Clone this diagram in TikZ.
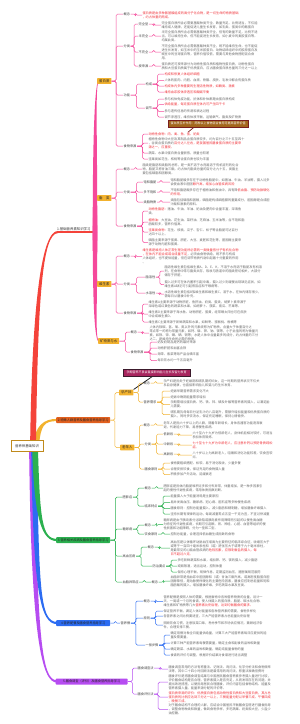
\documentclass[tikz,border=0pt]{standalone}
\usepackage{fontspec}
\setmainfont{Noto Sans CJK SC}
\usetikzlibrary{calc}
\pgfdeclarelayer{bg}
\pgfsetlayers{bg,main}
\definecolor{cRed}{HTML}{F4433A}
\definecolor{cPink}{HTML}{F5499B}
\definecolor{cGold}{HTML}{F2B22E}
\definecolor{cOrg}{HTML}{E2601E}
\definecolor{cGrn}{HTML}{2BB04F}
\definecolor{cBlu}{HTML}{2C6CF2}
\definecolor{cPur}{HTML}{B64CF1}
\definecolor{cTxt}{HTML}{6A6A6A}
\definecolor{cLab}{HTML}{444444}
\definecolor{cRdT}{HTML}{F0353C}
\definecolor{cBrn}{HTML}{A3661C}
\definecolor{cBrnD}{HTML}{7A1E1E}
\definecolor{cMag}{HTML}{A8255E}
\definecolor{cMagD}{HTML}{3C1A2C}
\definecolor{cRoot}{HTML}{C08A1C}
\newcommand\rt[1]{\textcolor{cRdT}{#1}}
\newcommand\brc[4]{\foreach \brcnode in {#4}{\draw[#1] (#2.east) -- ++(#3,0) |- (\brcnode.west);}}
\def\wa{3}\def\wb{1}
\newcommand\brup[9]{\fill[#1] ({#2-\wa},#3) .. controls ({#4-\wa},#5) and (#6,{#7-\wb}) .. (#8,{#9-\wb}) -- (#8,{#9+\wb}) .. controls (#6,{#7+\wb}) and ({#4+\wa},#5) .. ({#2+\wa},#3) -- cycle;}
\newcommand\brdn[9]{\fill[#1] ({#2-\wa},#3) .. controls ({#4-\wa},#5) and (#6,{#7+\wb}) .. (#8,{#9+\wb}) -- (#8,{#9-\wb}) .. controls (#6,{#7-\wb}) and ({#4+\wa},#5) .. ({#2+\wa},#3) -- cycle;}
\tikzset{
 fnt/.style={font=\fontsize{3.2}{4.1}\selectfont},
 tx/.style={fnt, text=cTxt, align=left, anchor=west, inner sep=0.3pt},
 lb/.style={fnt, text=cLab, anchor=west, inner sep=0.4pt},
 gb/.style={font=\fontsize{3.4}{4}\selectfont, fill=cGold, text=black!85, anchor=west, inner xsep=2pt, inner ysep=1.2pt, rounded corners=0.4pt},
 mbox/.style={fnt, anchor=west, text=black!85, inner xsep=1.5pt, inner ysep=0.8pt, minimum height=6pt, minimum width=54pt, rounded corners=0.8pt},
 rootbox/.style={font=\fontsize{3.4}{4}\selectfont, draw=cRoot, line width=0.7pt, fill=white, text=black!80, minimum width=32pt, minimum height=10.5pt, inner sep=0.5pt},
 callA/.style={font=\fontsize{3.0}{3.6}\selectfont, fill=cBrn, draw=cBrnD, line width=0.6pt, text=white, minimum width=80pt, minimum height=7pt, inner sep=0.6pt},
 callB/.style={font=\fontsize{3.0}{3.6}\selectfont, fill=cMag, draw=cMagD, line width=0.7pt, text=white, minimum width=67pt, minimum height=7pt, inner sep=0.6pt},
 lp/.style={cPink, line width=0.5pt, rounded corners=1.5pt},
 lg/.style={cGold, line width=0.5pt, rounded corners=1.5pt},
 lgr/.style={cGrn, line width=0.5pt, rounded corners=1.5pt},
 lbl/.style={cBlu, line width=0.5pt, rounded corners=1.5pt},
 lpu/.style={cPur, line width=0.5pt, rounded corners=1.5pt}
}
\begin{document}
\begin{tikzpicture}[x=1pt,y=-1pt]
\useasboundingbox (0,0) rectangle (300,724);
% root
\node[rootbox] (R) at (27,446) {营养师基础知识};
% ---------- branch 1 ----------
\node[lb, text=black!80, font=\fontsize{3.4}{4}\selectfont] (L1) at (56.5,229) {1.基础营养素知识学习};
\node[gb] (N1) at (97,81) {蛋白质};
\node[gb] (N2) at (97,198) {脂　类};
\node[gb] (N3) at (97,284) {维生素};
\node[gb] (N4) at (98,341) {矿物质与水};
% N1
\node[lb] (C11) at (123,14) {概念};
\node[tx, text=cRdT] (T11) at (142,15) {蛋白质是由多种氨基酸组成的高分子化合物，是一切生命的物质基础\\，约占体重的两成。};
\node[lb] (C12) at (123,46) {分类};
\node[lb] (K121) at (138,24) {完全型};
\node[lb] (K122) at (138,36) {半完全};
\node[lb] (K123) at (138,52) {不完全};
\node[lb] (K124) at (138,66) {按来源};
\node[tx] (T121) at (161,25) {完全蛋白质所含必需氨基酸种类齐全、数量充足、比例适当，不仅能\\维持成人健康，还能促进儿童生长发育，如乳类、蛋类中的酪蛋白};
\node[tx] (T122) at (161,36) {半完全蛋白质所含必需氨基酸种类齐全，但有的数量不足，比例不适\\当，可以维持生命，但不能促进生长发育，如小麦中的麦胶蛋白等。\\均属此类。};
\node[tx] (T123) at (161,52) {不完全蛋白质所含必需氨基酸种类不全，既不能维持生命，也不能促\\进生长发育，如玉米中的玉米胶蛋白、动物结缔组织中的胶原蛋白及\\豌豆中的豆球蛋白等，营养价值较低，需要与其他食物搭配混合食\\用。};
\node[tx] (T124) at (161,66) {蛋白质还可按来源分为动物性蛋白质和植物性蛋白质，动物性蛋白\\质和大豆蛋白质属于优质蛋白，应占膳食蛋白质总量的三分之一以上};
\node[lb] (C13) at (123,95) {功能};
\node[lb] (F131) at (145,84) {构成};
\node[lb] (F132) at (145,108) {调节};
\node[tx, text=cRdT] (F1a) at (164,74) {构成和修复人体组织细胞};
\node[tx] (F1b) at (164,80.5) {人体的肌肉、内脏、血液、骨骼、皮肤、毛发中都含有蛋白质};
\node[tx, text=cRdT] (F1c) at (164,86) {构成体内多种重要的生理活性物质，如酶类、激素};
\node[tx, text=cRdT] (F1d) at (164,92) {维持血浆胶体渗透压和酸碱平衡};
\node[tx] (F2a) at (164,99) {参与机体免疫功能，抗体和补体都是由蛋白质构成};
\node[tx, text=cRdT] (F2b) at (164,104.5) {供给能量，每克蛋白质在体内可产生四千卡};
\node[tx] (F2c) at (164,111.5) {参与遗传信息的传递和表达过程};
\node[tx] (F2d) at (164,117) {调节渗透压，维持体液平衡，运输氧气、脂类及矿物质};
\node[callA] (CB1) at (208,123.5) {蛋白质互补作用：两种以上食物混合食用可提高营养价值};
\node[lb] (C14) at (123,146) {食物来源};
\node[tx, text=cRdT] (S141) at (148,134) {动物性食物：肉、禽、鱼、蛋、奶类};
\node[tx] (S142) at (148,143) {植物性食物中大豆及其制品含蛋白质较多，约为百分之三十五至四十\\，谷类含蛋白质约\rt{百分之八左右，是我国居民膳食蛋白质的主要来}\\\rt{源之一，应重视。}};
\node[tx] (S143) at (148,153) {蔬菜、水果中蛋白质含量很低，质量也较差};
\node[tx] (S144) at (148,159) {坚果类如花生、核桃等含蛋白质也较为丰富};
% N2
\node[lb] (C21) at (123,169) {概念};
\node[tx] (T21) at (142,169) {脂类是脂肪和类脂的总称，是一类不溶于水而易溶于有机溶剂的化合\\物，脂肪又称甘油三酯，约占体内脂类总量的百分之九十五，类脂主\\要包括磷脂和固醇类。};
\node[lb] (C22) at (123,192) {分类};
\node[lb] (K221) at (143,182) {饱和脂肪};
\node[lb] (K222) at (143,192) {多不饱和};
\node[lb] (K223) at (143,202) {类脂物质};
\node[tx] (T221) at (170,182) {饱和脂肪酸多存在于动物性脂肪中，如猪油、牛油、羊油等，摄入过多\\会使血液中胆固\rt{醇升高，增加心血管疾病风险}};
\node[tx] (T222) at (170,192) {不饱和脂肪酸多存在于植物油和鱼油中，具有降\rt{低血脂、预防动脉硬化}\\\rt{的作用。}};
\node[tx] (T223) at (170,202) {类脂包括磷脂和固醇，磷脂是构成细胞膜的重要成分，胆固醇是合成胆\\汁酸和激素的原料。};
\node[lb] (C23) at (123,226) {食物来源};
\node[tx] (S231) at (148,211) {\rt{动物性脂肪：}猪油、牛油、羊油、奶油及肥肉中含量丰富，深海鱼\\类。};
\node[tx] (S232) at (148,222) {\rt{植物油：}大豆油、花生油、菜籽油、芝麻油、玉米油等，含不饱和脂\\肪酸较多，营养价值高。};
\node[tx] (S233) at (148,232) {\rt{坚果类食物：}花生、核桃、瓜子、杏仁、松子等含脂肪可达百分\\之四十以上。};
\node[tx] (S234) at (148,242.5) {磷脂主要来源于蛋黄、肝脏、大豆、麦胚和花生等，胆固醇主要来\\源于动物内脏和蛋黄。};
% N3
\node[lb] (C31) at (123,256) {概念};
\node[tx] (T31) at (142,256.5) {\rt{维生素是维持人体正常生理功能所必需的一类微量低分子有机化合物}\\\rt{，在体内不能合成或合成量不足}，必须由食物供给，既不参与构成\\人体组织，也不提供能量，但在调节物质代谢中起着十分重要的作用\\。};
\node[lb] (C32) at (123,284) {分类};
\node[lb] (K321) at (145,277) {脂溶性};
\node[lb] (K322) at (145,293) {水溶性};
\node[tx] (T3211) at (164,271) {脂溶性维生素包括维生素A、D、E、K，不溶于水而溶于脂肪及有机溶\\剂，在食物中常与脂类共存，吸收与肠道中的脂类密切相关，大部分\\储存于肝脏。};
\node[tx] (T3212) at (164,284.5) {摄入过多可在体内蓄积引起中毒，摄入过少则缓慢出现缺乏症状，如\\维生素A缺乏可引起夜盲症和干眼病等。};
\node[tx] (T322) at (164,294) {水溶性维生素包括B族维生素和维生素C，溶于水，在体内储存很少，\\需每日从膳食中补充。};
\node[lb] (C33) at (123,313) {食物来源};
\node[tx] (S331) at (148,304) {维生素A主要来源于动物肝脏、鱼肝油、奶类、蛋类，胡萝卜素来源于\\深绿色或红黄色的蔬菜和水果，如胡萝卜、菠菜、南瓜、芒果等。};
\node[tx] (S332) at (148,314) {维生素D主要来源于海水鱼、动物肝脏、蛋黄，经常晒太阳也可在皮肤\\中合成维生素D。};
\node[tx] (S333) at (148,322) {维生素C主要来源于新鲜蔬菜和水果，如鲜枣、猕猴桃、柑橘等};
% N4
\node[lb] (C41) at (130,332) {概念};
\node[tx] (T41) at (149,333) {人体内除碳、氢、氧、氮以外的元素统称为矿物质，含量大于体重百分之\\零点零一的称为常量元素，如钙、磷、钾、钠、镁等，小于此值的称为微量元\\素，如铁、锌、碘、硒、铜等；水是人体中含量最多的成分，约占体重的三分\\之二，是维持生命所必需的物质。};
\node[lb] (C42) at (130,352) {食物来源};
\node[tx] (S41) at (157,342) {奶及奶制品是钙的最好来源};
\node[tx] (S42) at (157,348) {动物肝脏和血富含铁};
\node[tx] (S43) at (157,354) {海带、紫菜等海产品含碘丰富};
\node[tx] (S44) at (157,360.5) {每日饮水约一千五百毫升};
% ---------- branch 2 ----------
\node[mbox, fill=cOrg] (M2) at (56,420) {2.特殊人群营养及膳食营养指导学习};
\node[gb] (A) at (119,392.5) {孕产妇};
\node[gb] (B) at (120,447.5) {老年人};
\node[callB] (CB2) at (156.5,372.5) {孕期营养不良会直接影响胎儿生长及智力发育};
\node[lb] (A1) at (143,383) {概念};
\node[tx] (TA1) at (163,383) {孕产妇是指处于妊娠期和哺乳期的妇女，这一时期的营养状况不仅关\\系自身健康，也直接影响胎儿和婴儿的生长发育。};
\node[lb] (A2) at (143,402) {营养需求};
\node[tx] (A2a) at (170,391) {妊娠早期营养需求变化不大};
\node[tx] (A2b) at (170,397) {妊娠中晚期能量需求增加};
\node[tx] (A2c) at (170,404.5) {孕期需增加蛋白质、钙、铁、锌、碘及叶酸等营养素的摄入，以满足胎\\儿需要。};
\node[tx] (A2d) at (170,414.5) {哺乳期乳母每日分泌乳汁约八百毫升，需额外增加能量和优质蛋白质的\\摄入，同时多饮汤水，保证充足睡眠，保持心情愉快。};
\node[lb] (B1) at (143,425) {概念};
\node[tx] (TB1) at (163,425) {老年人是指六十岁以上的人群，随着年龄增长，身体各器官功能逐渐衰\\退，代谢能力下降，易患慢性疾病。};
\node[lb] (B2) at (144,444) {分类};
\node[lb] (Q1) at (163,434) {低龄段};
\node[lb] (Q2) at (163,444) {中龄段};
\node[lb] (Q3) at (163,454) {高龄段};
\node[tx] (TQ1) at (192,435) {六十至六十九岁为低龄老人，身体机能相对较好，可适当\\参加体育锻炼。};
\node[tx, text=cRdT] (TQ2) at (192,445) {七十至七十九岁为中龄老人，应注意补钙以预防骨质疏松\\症。};
\node[tx] (TQ3) at (192,455) {八十岁以上为高龄老人，咀嚼和消化功能较差，饮食宜软\\烂。};
\node[lb] (B3) at (144,469) {膳食原则};
\node[tx] (B3a) at (170,463) {食物要粗细搭配、松软、易于消化吸收，少量多餐};
\node[tx] (B3b) at (170,469) {合理安排饮食，保证充足的食物摄入量};
\node[tx] (B3c) at (170,474.5) {积极参加户外活动，延缓衰老};
% ---------- branch 3 ----------
\node[mbox, fill=cGrn] (M3) at (56,540) {3.营养相关疾病及膳食营养指导学习};
\node[lb] (G1) at (122,497) {肥胖症};
\node[lb] (G2) at (122,529) {糖尿病};
\node[lb] (G3) at (122,556) {高血压病};
\node[lb] (G4) at (122,582) {血脂异常症};
\node[lb] (G11) at (144,488) {概念};
\node[tx] (TG11) at (163,488) {肥胖症是指体内脂肪堆积过多和分布异常，体重增加，是一种多因素引\\起的慢性代谢性疾病，常用体质指数判断。};
\node[lb] (G12) at (144,506) {临床特点};
\node[tx] (G12a) at (170,496) {能量摄入大于能量消耗是主要原因};
\node[tx] (G12b) at (170,502.5) {易并发高血压、糖尿病、冠心病、胆石症等多种慢性疾病};
\node[tx] (G12c) at (170,508.5) {膳食原则：控制总能量摄入，减少脂肪和精制糖，增加膳食纤维摄入};
\node[tx] (G12d) at (170,514) {坚持长期有规律的运动，每周减重零点五至一千克为宜，不宜过快减重};
\node[lb] (G21) at (144,525) {概念};
\node[tx] (TG21) at (163,524.5) {糖尿病是由于胰岛素分泌缺陷或胰岛素作用障碍而引起的以慢性高血糖\\为特征的代谢性疾病，长期可引起眼、肾、神经、心脏、血管等组织的慢\\性损害和功能障碍，分为一型和二型。};
\node[lb] (G22) at (144,534) {饮食原则};
\node[tx] (TG22) at (170,534) {控制总能量，合理选择低血糖生成指数的食物};
\node[lb] (G31) at (147,547) {概念};
\node[tx] (TG31) at (170,548) {高血压是以体循环动脉血压增高为主要特征的临床综合征，收缩压大于\\或等于一百四十毫米汞柱和（或）舒张压大于或等于九十毫米汞柱，\\是最常见的心脑血管疾病的\rt{危险因素，应限制食盐的摄入，每}\\\rt{日不超过六克。}};
\node[lb] (G32) at (152,566) {防治要点};
\node[tx] (G32a) at (177,560) {多吃新鲜蔬菜和水果，增加钾、钙、镁的摄入，减少脂肪};
\node[tx] (G32b) at (177,566) {戒烟限酒，适当运动，控制体重};
\node[tx] (G32c) at (177,572) {保持心理平衡，规律作息，定期监测血压，遵医嘱规范服药};
\node[lb] (G41) at (151,582) {概念};
\node[tx] (TG41) at (170,581) {血脂异常是指血浆中胆固醇和（或）甘油三酯升高，或高密度脂蛋白胆\\固醇降低，是动脉粥样硬化的主要危险因素，膳食应控制总能量和饱和\\脂肪酸的摄入，增加膳食纤维，多吃蔬菜水果及豆类。};
% ---------- branch 4 ----------
\node[mbox, fill=cBlu] (M4) at (56,623) {4.营养配餐及膳食营养指导学习};
\node[lb] (D) at (120,623) {营养餐};
\node[lb] (D1) at (143,601) {概念};
\node[tx] (TD1) at (163,601.5) {营养配餐是按照人体的需要，根据食物中各种营养物质的含量，设计一\\天、一周或一个月的食谱，使人体摄入的蛋白质、脂肪、碳水化合物、\\维生素和矿物质等几大\rt{营养素比例合理，达到均衡膳食的要求。}};
\node[lb] (D2) at (143,618) {原则};
\node[tx] (D2a) at (163,611) {保证营养平衡，满足人体对能量和各种营养素的需要，食物多样化};
\node[tx] (D2b) at (163,616) {各营养素之间比例要适宜，三大产能营养素占总能量比例合理};
\node[tx] (D2c) at (163,625) {照顾饮食习惯，注意饭菜口味，考虑季节和市场供应情况，兼顾经济条\\件，合理安排三餐。};
\node[lb] (D3) at (145,645) {一般步骤};
\node[tx] (D3a) at (170,635) {确定用餐对象全日能量供给量，计算三大产能营养素每日应提供的能\\量及需要量。};
\node[tx] (D3b) at (170,643) {计算三种产能营养素每餐需要量，确定主食和副食的品种和数量};
\node[tx] (D3c) at (170,649) {确定蔬菜、水果的品种和数量，确定纯能量食物的量};
\node[tx] (D3d) at (170,655) {食谱的评价与调整，根据评价结果对食谱进行适当调整};
% ---------- branch 5 ----------
\node[mbox, fill=cPur, minimum width=72pt] (M5) at (55.5,681.5) {5.膳食调查（评价）及膳食营养指导学习};
\node[lb] (P1) at (137,668) {膳食调查法};
\node[lb] (P2) at (137,694) {膳食评价法};
\node[tx] (TP1) at (168,669) {膳食调查常用的方法有称重法、记账法、询问法、化学分析法和食物频率\\法等，其中二十四小时回顾法是最常用的询问法，称重法准确但费时};
\node[tx] (E1) at (168,682) {膳食评价是将膳食调查结果与中国居民膳食营养素参考摄入量进行比较，\\评价膳食结构是否合理、营养素摄入是否充足，从而发现存在的问题，并\\提出改进措施，以便指导居民合理膳食，评价内容包括食物结构、能量及\\营养素摄入量、能量来源分配的评价等。};
\node[tx, text=cRdT] (E2) at (168,697) {蛋白质来源的评价：优质蛋白质包括动物性蛋白质和大豆蛋白质，其占总\\蛋白质的比例应达到三分之一以上，三餐能量分配以早餐三成、午餐四成\\、晚餐三成。};
\node[tx] (E3) at (168,709.5) {对于膳食结构不合理的人群，应结合中国居民平衡膳食宝塔进行膳食指导\\，调整食物种类和数量，做到食物多样，多吃蔬果、奶类和大豆，少盐少\\油控糖。};
% ---------- connectors ----------
\draw[cBrnD, line width=0.7pt] ($(CB1.south)+(-14,0)$) -- ($(S141.north east)+(-12,0)$);
\draw[black!85, line width=0.8pt] ($(CB2.south)+(-4,0)$) -- (A.north east);
\brc{lp}{N1}{4.5}{C11,C12,C13,C14}
\brc{lp}{C11}{5}{T11}
\brc{lp}{C12}{3.5}{K121,K122,K123,K124}
\brc{lp}{K121}{5}{T121}
\brc{lp}{K122}{5}{T122}
\brc{lp}{K123}{5}{T123}
\brc{lp}{K124}{5}{T124}
\brc{lp}{C13}{6}{F131,F132}
\brc{lp}{F131}{5}{F1a,F1b,F1c,F1d}
\brc{lp}{F132}{5}{F2a,F2b,F2c,F2d}
\brc{lp}{C14}{5.5}{S141,S142,S143,S144}
\brc{lp}{N2}{4.5}{C21,C22,C23}
\brc{lp}{C21}{5}{T21}
\brc{lp}{C22}{6}{K221,K222,K223}
\brc{lp}{K221}{4}{T221}
\brc{lp}{K222}{4}{T222}
\brc{lp}{K223}{4}{T223}
\brc{lp}{C23}{5.5}{S231,S232,S233,S234}
\brc{lp}{N3}{4.5}{C31,C32,C33}
\brc{lp}{C31}{5}{T31}
\brc{lp}{C32}{6}{K321,K322}
\brc{lp}{K321}{4}{T3211,T3212}
\brc{lp}{K322}{4}{T322}
\brc{lp}{C33}{5.5}{S331,S332,S333}
\brc{lp}{N4}{6}{C41,C42}
\brc{lp}{C41}{5}{T41}
\brc{lp}{C42}{6}{S41,S42,S43,S44}
\brc{lg}{M2}{4.5}{A,B}
\brc{lg}{A}{5}{A1,A2}
\brc{lg}{A1}{5}{TA1}
\brc{lg}{A2}{5}{A2a,A2b,A2c,A2d}
\brc{lg}{B}{5}{B1,B2,B3}
\brc{lg}{B1}{5}{TB1}
\brc{lg}{B2}{5}{Q1,Q2,Q3}
\brc{lg}{Q1}{5}{TQ1}
\brc{lg}{Q2}{5}{TQ2}
\brc{lg}{Q3}{5}{TQ3}
\brc{lg}{B3}{5}{B3a,B3b,B3c}
\brc{lgr}{M3}{5}{G1,G2,G3,G4}
\brc{lgr}{G1}{5}{G11,G12}
\brc{lgr}{G11}{5}{TG11}
\brc{lgr}{G12}{5}{G12a,G12b,G12c,G12d}
\brc{lgr}{G2}{5}{G21,G22}
\brc{lgr}{G21}{5}{TG21}
\brc{lgr}{G22}{5}{TG22}
\brc{lgr}{G3}{5}{G31,G32}
\brc{lgr}{G31}{5}{TG31}
\brc{lgr}{G32}{5}{G32a,G32b,G32c}
\brc{lgr}{G4}{5}{G41}
\brc{lgr}{G41}{5}{TG41}
\brc{lbl}{M4}{5}{D}
\brc{lbl}{D}{5}{D1,D2,D3}
\brc{lbl}{D1}{5}{TD1}
\brc{lbl}{D2}{5}{D2a,D2b,D2c}
\brc{lbl}{D3}{5}{D3a,D3b,D3c,D3d}
\brc{lpu}{M5}{4.5}{P1,P2}
\brc{lpu}{P1}{6}{TP1}
\brc{lpu}{P2}{4}{E1,E2,E3}
% ---------- thick branches ----------
\begin{pgfonlayer}{bg}
\fill[white] (0,0) rectangle (300,724);
\def\wa{2.9}\def\wb{1.1}
\brdn{cPur}{32}{446}{34}{640}{42}{681.5}{57}{681.5}
\brdn{cBlu}{34}{446}{36}{590}{40}{623}{57}{623}
\brdn{cGrn}{35}{446}{37}{520}{42}{540}{57}{540}
\brup{cGold}{36}{446}{38}{425}{44}{420}{57}{420}
\brup{cRed}{33}{446}{35}{300}{42}{232}{58}{232}
\draw[cRed, line width=1.2pt] (57,232) -- (96,232);
\def\wa{2.3}\def\wb{0.9}
\brup{cPink}{95}{232}{95}{130}{95}{81}{99}{81}
\brup{cPink}{95}{232}{95}{205}{95}{198}{99}{198}
\brdn{cPink}{95}{232}{95}{265}{95}{284}{99}{284}
\brdn{cPink}{95}{232}{95}{310}{95}{341}{99}{341}
\end{pgfonlayer}
\end{tikzpicture}
\end{document}
